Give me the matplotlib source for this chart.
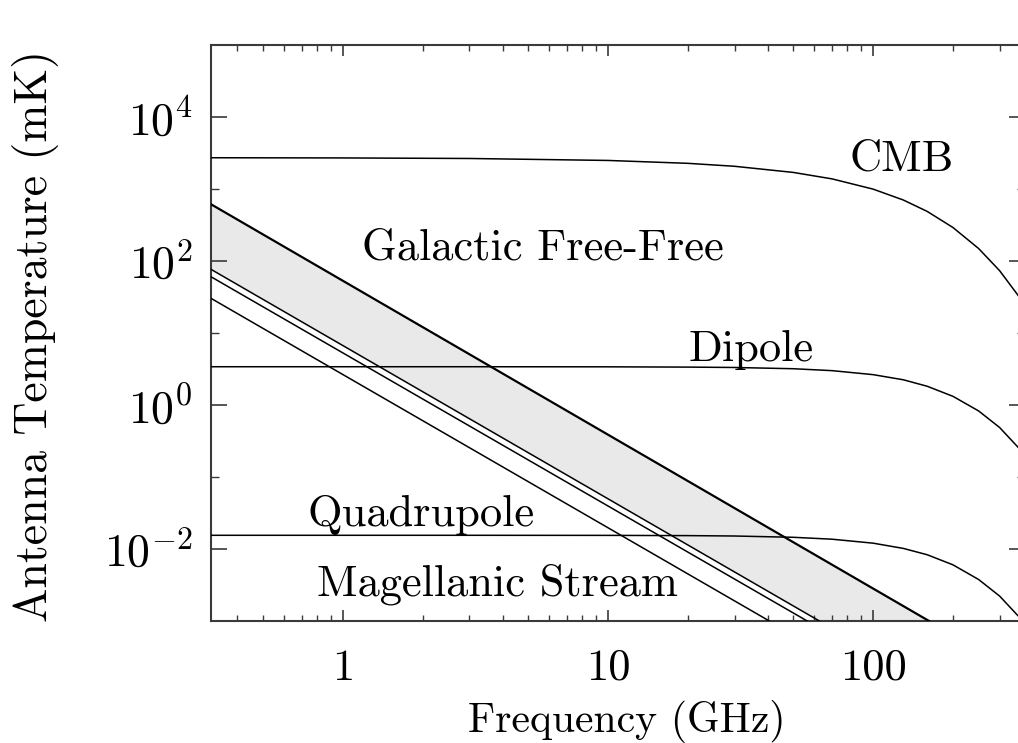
import matplotlib
matplotlib.use("Agg")
import matplotlib.pyplot as plt
from matplotlib.ticker import FixedLocator, LogLocator, NullFormatter

plt.rcParams['font.family'] = 'cmr10'
plt.rcParams['mathtext.fontset'] = 'cm'
plt.rcParams['axes.formatter.use_mathtext'] = True

freq = [0.318, 1, 3, 10, 20, 30, 50, 70, 100, 130, 160, 200, 250, 300, 374]
# antenna temperatures (mK)
cmb = [2717, 2701, 2654, 2492, 2273, 2068, 1699, 1382, 996, 703, 488, 292, 149, 73.4, 24.8]
dipole = [3.40, 3.40, 3.40, 3.39, 3.36, 3.32, 3.19, 3.00, 2.64, 2.24, 1.82, 1.32, 0.827, 0.487, 0.204]
quadrupole = [0.0155, 0.0155, 0.0155, 0.01546, 0.01534, 0.01515, 0.01454, 0.01368,
              0.01205, 0.01019, 0.00832, 0.00603, 0.00377, 0.00222, 0.00093]

# power-law lines: (start freq, start T) to (end freq, end T)
ff_upper_f = [0.318, 162.5]
ff_upper_t = [614, 0.001]
ff_lower_f = [0.318, 62.7]
ff_lower_t = [76.6, 0.001]
mag1_f = [0.318, 56.4]
mag1_t = [60.4, 0.001]
mag2_f = [0.318, 40.6]
mag2_t = [30.3, 0.001]

xticks = [1, 10, 100]
xticklabels = ['1', '10', '100']
yticks = [1e-2, 1e0, 1e2, 1e4]
yticklabels = [r'$10^{-2}$', r'$10^{0}$', r'$10^{2}$', r'$10^{4}$']
yminor = [1e-1, 1e1, 1e3]

fig = plt.figure(figsize=(10.18, 7.43), dpi=100)
ax = fig.add_axes([211/1018, 122/743, 814/1018, 576/743])
ax.set_xscale('log')
ax.set_yscale('log')
ax.set_xlim(0.318, 374)
ax.set_ylim(1e-3, 1e5)

# free-free band (shaded between the upper and lower power laws)
ax.fill([ff_upper_f[0], ff_upper_f[1], ff_lower_f[1], ff_lower_f[0]],
        [ff_upper_t[0], ff_upper_t[1], ff_lower_t[1], ff_lower_t[0]],
        color='#e9e9e9', lw=0, zorder=1)
ax.plot(ff_upper_f, ff_upper_t, color='black', lw=1.6, zorder=3)
ax.plot(ff_lower_f, ff_lower_t, color='black', lw=1.1, zorder=3)
ax.plot(mag1_f, mag1_t, color='black', lw=1.1, zorder=3)
ax.plot(mag2_f, mag2_t, color='black', lw=1.1, zorder=3)

ax.plot(freq, cmb, color='black', lw=1.1, zorder=3)
ax.plot(freq, dipole, color='black', lw=1.1, zorder=3)
ax.plot(freq, quadrupole, color='black', lw=1.1, zorder=3)

fs = 32
ax.text(128.6, 1816, 'CMB', fontsize=fs, ha='center', va='baseline')
ax.text(5.69, 106, 'Galactic Free-Free', fontsize=fs, ha='center', va='baseline')
ax.text(34.6, 4.11, 'Dipole', fontsize=fs, ha='center', va='baseline')
ax.text(1.976, 0.0208, 'Quadrupole', fontsize=fs, ha='center', va='baseline')
ax.text(3.82, 0.00223, 'Magellanic Stream', fontsize=fs, ha='center', va='baseline')

# ticks
ax.xaxis.set_major_locator(FixedLocator(xticks))
ax.set_xticklabels(xticklabels)
ax.xaxis.set_minor_locator(LogLocator(base=10, subs=range(2, 10)))
ax.xaxis.set_minor_formatter(NullFormatter())
ax.yaxis.set_major_locator(FixedLocator(yticks))
ax.set_yticklabels(yticklabels)
ax.yaxis.set_minor_locator(FixedLocator(yminor))
ax.yaxis.set_minor_formatter(NullFormatter())

spine_col = '#3a3a3a'
for s in ax.spines.values():
    s.set_color(spine_col)
    s.set_linewidth(1.5)
ax.tick_params(axis='x', which='major', direction='in', top=True, length=8, width=1.2,
               color=spine_col, labelsize=32, pad=20)
ax.tick_params(axis='x', which='minor', direction='in', top=True, length=4.3, width=1.0,
               color=spine_col)
ax.tick_params(axis='y', which='major', direction='in', right=True, length=11.5, width=1.2,
               color=spine_col, labelsize=33, pad=13)
ax.tick_params(axis='y', which='minor', direction='in', right=True, length=5.8, width=1.0,
               color=spine_col)

ax.set_xlabel('Frequency (GHz)', fontsize=30)
ax.xaxis.set_label_coords(0.511, -0.1366)
ax.set_ylabel('Antenna Temperature (mK)', fontsize=33)
ax.yaxis.set_label_coords(-0.187, 0.495)

fig.savefig('out.png', dpi=100)
